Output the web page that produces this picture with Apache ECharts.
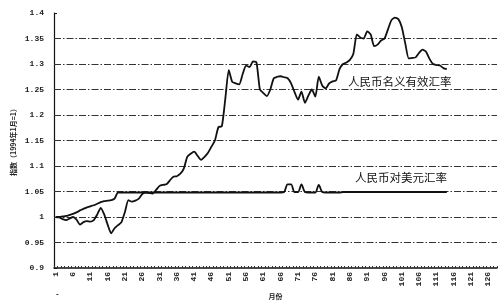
<!DOCTYPE html>
<html><head><meta charset="utf-8">
<script src="https://cdn.jsdelivr.net/npm/echarts@6/dist/echarts.min.js"></script>
<style>html,body{margin:0;padding:0;background:#fff}#c{width:503px;height:302px}</style>
</head><body><div id="c"></div>
<script>
// months 1..128 on the category axis
var months = [];
for (var i = 1; i <= 128; i++) months.push(String(i));

// 人民币名义有效汇率 (index, 1994-01 = 1), months 1..114
var neer = [
1.000,0.999,0.996,0.994,0.997,1.000,0.995,0.985,0.990,0.992,
0.991,0.994,1.005,1.018,1.005,0.985,0.968,0.978,0.984,0.990,
1.010,1.033,1.030,1.032,1.036,1.045,1.048,1.047,1.046,1.053,
1.061,1.063,1.064,1.072,1.079,1.080,1.085,1.095,1.118,1.124,
1.128,1.120,1.112,1.118,1.126,1.138,1.150,1.176,1.178,1.232,
1.288,1.265,1.262,1.260,1.280,1.297,1.294,1.305,1.303,1.250,
1.243,1.237,1.250,1.272,1.275,1.276,1.274,1.272,1.262,1.245,
1.230,1.246,1.224,1.238,1.250,1.236,1.275,1.258,1.252,1.262,
1.266,1.268,1.290,1.300,1.303,1.308,1.320,1.358,1.352,1.350,
1.364,1.358,1.335,1.338,1.346,1.350,1.368,1.386,1.391,1.388,
1.372,1.340,1.311,1.312,1.313,1.322,1.328,1.324,1.310,1.300,
1.298,1.297,1.292,1.290
];

// 人民币对美元汇率 (index), months 1..114
var usd = [
1.000,1.000,1.001,1.002,1.004,1.006,1.009,1.013,1.016,1.019,
1.021,1.023,1.026,1.029,1.031,1.032,1.033,1.036,1.048,1.048,
1.048,1.048,1.048,1.048,1.048,1.048,1.048,1.048,1.048,1.048,
1.048,1.048,1.048,1.048,1.048,1.048,1.048,1.048,1.048,1.048,
1.048,1.048,1.048,1.048,1.048,1.048,1.048,1.048,1.048,1.048,
1.048,1.048,1.048,1.048,1.048,1.048,1.048,1.048,1.048,1.048,
1.048,1.048,1.048,1.048,1.048,1.048,1.049,1.064,1.064,1.049,
1.049,1.064,1.049,1.048,1.048,1.048,1.063,1.049,1.048,1.048,
1.048,1.048,1.048,1.049,1.049,1.049,1.049,1.049,1.049,1.049,
1.049,1.049,1.049,1.049,1.049,1.049,1.049,1.049,1.049,1.049,
1.049,1.049,1.049,1.049,1.049,1.049,1.049,1.049,1.049,1.049,
1.049,1.049,1.049,1.049
];

var yTicks = { min: 0.9, max: 1.4, interval: 0.05 };
// horizontal gridlines drawn (no line at the top 1.4 or the axis at 0.9)
var gridValues = [0.95, 1.0, 1.05, 1.1, 1.15, 1.2, 1.25, 1.3, 1.35];
var neerName = '人民币名义有效汇率';
var usdName = '人民币对美元汇率';
var xName = '月份';
var yName = '指数（1994年1月=1）';

var chart = echarts.init(document.getElementById('c'));
chart.setOption({
  animation: false,
  backgroundColor: '#fff',
  grid: { left: 54, right: 6, top: 13, bottom: 34, outerBoundsMode: 'none', containLabel: false },
  xAxis: {
    type: 'category',
    data: months,
    boundaryGap: true,
    name: xName,
    nameLocation: 'middle',
    nameGap: 25,
    nameMoveOverlap: false,
    nameTextStyle: { fontSize: 7, fontWeight: 'bold', color: '#222', fontFamily: 'Noto Sans CJK SC' },
    axisLine: { lineStyle: { color: '#111', width: 1.5 } },
    axisTick: { show: true, inside: true, length: 2, interval: 0, lineStyle: { color: '#333', width: 1 } },
    axisLabel: { interval: 4, rotate: 90, fontSize: 8, fontWeight: 'bold', color: '#222', margin: 4, fontFamily: 'Liberation Mono' },
    splitLine: { show: false }
  },
  yAxis: {
    type: 'value',
    min: yTicks.min, max: yTicks.max, interval: yTicks.interval,
    name: yName,
    nameLocation: 'middle',
    nameRotate: 90,
    nameGap: 37,
    nameMoveOverlap: false,
    nameTextStyle: { fontSize: 7, fontWeight: 'bold', color: '#222', fontFamily: 'Noto Sans CJK SC' },
    axisLine: { show: true, lineStyle: { color: '#111', width: 1.2 } },
    axisTick: { show: true, inside: true, length: 3, lineStyle: { color: '#111' } },
    axisLabel: {
      fontSize: 8, fontWeight: 'bold', color: '#222', margin: 10, fontFamily: 'Liberation Mono',
      formatter: function (v) { return String(Math.round(v * 100) / 100); }
    },
    splitLine: { show: false }
  },
  series: [
    {
      name: neerName, type: 'line', data: neer, symbol: 'none', smooth: 0.2,
      lineStyle: { color: '#111', width: 1.8 }, z: 3,
      markLine: {
        silent: true, symbol: 'none', label: { show: false },
        lineStyle: { color: '#333', width: 1, type: [7, 2, 1.5, 2] },
        data: gridValues.map(function (v) { return { yAxis: v }; }),
        z: 1
      }
    },
    {
      name: usdName, type: 'line', data: usd, symbol: 'none', smooth: 0.3,
      lineStyle: { color: '#111', width: 1.8 }, z: 3
    }
  ],
  graphic: [
    { type: 'text', left: 348, top: 76, style: { text: neerName, fontSize: 11.5, fill: '#111', fontFamily: 'Noto Sans CJK SC' } },
    { type: 'text', left: 355, top: 172, style: { text: usdName, fontSize: 11.5, fill: '#111', fontFamily: 'Noto Sans CJK SC' } },
    { type: 'text', left: 56, top: 290, style: { text: '-', fontSize: 8, fontWeight: 'bold', fill: '#222' } }
  ]
});
</script></body></html>
